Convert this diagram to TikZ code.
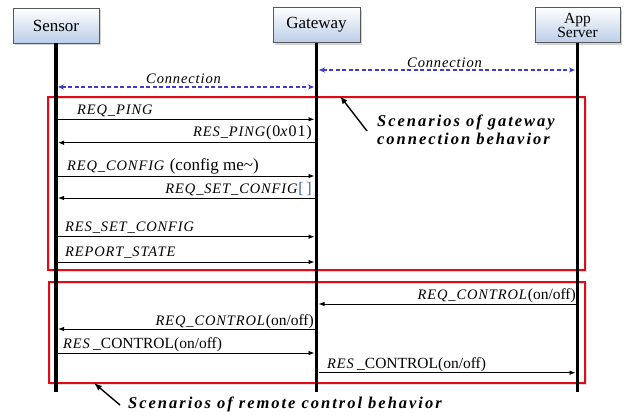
\documentclass[tikz,border=0pt]{standalone}
\usepackage{fontspec}
\setmainfont{Liberation Serif}
\newfontfamily\lblfont[LetterSpace=6]{Liberation Serif}
\newfontfamily\annfont[LetterSpace=12]{Liberation Serif}
\usetikzlibrary{arrows.meta,shadows}
\definecolor{boxblue}{RGB}{186,206,232}
\definecolor{connblue}{RGB}{60,60,205}
\definecolor{redbox}{RGB}{228,10,20}
\definecolor{brk}{RGB}{60,100,160}
\tikzset{
  actor/.style={draw=gray!70!black, line width=0.8pt, top color=white, bottom color=boxblue,
    minimum height=35pt, minimum width=86pt, inner sep=0pt, align=center,
    font=\fontsize{17}{15}\selectfont,
    drop shadow={shadow xshift=2pt, shadow yshift=-2pt, opacity=.35, fill=gray}},
  lifeline/.style={line width=3.5pt, black},
  msg/.style={line width=0.9pt, -{Latex[length=6pt,width=4.5pt]}},
  conn/.style={connblue, line width=1.2pt, dash pattern=on 4pt off 2.5pt, {Stealth[length=6pt,width=5pt]}-{Stealth[length=6pt,width=5pt]}},
  lbl/.style={inner sep=0pt, font=\lblfont\fontsize{14.5}{16}\selectfont},
  frame/.style={draw=redbox, line width=2pt},
  frameshadow/.style={draw=gray!25, line width=1.5pt},
  ann/.style={inner sep=0pt, font=\annfont\fontsize{16.5}{18}\selectfont\bfseries\itshape},
  pointer/.style={line width=1.4pt, -{Latex[length=8pt,width=6pt]}},
}
\newcommand\upr[1]{{\rmfamily\fontsize{15.5}{16}\selectfont #1}}
\begin{document}
\begin{tikzpicture}[x=1pt,y=-1pt]
\useasboundingbox (0,0) rectangle (628,418);
% red frames with soft shadow
\node[frameshadow, minimum width=537pt, minimum height=173pt, inner sep=0pt] (f1s) at (318,185) {};
\node[frameshadow, minimum width=536pt, minimum height=101pt, inner sep=0pt] (f2s) at (318.5,334) {};
\node[frame, minimum width=537pt, minimum height=173pt, inner sep=0pt] (f1) at (316.5,183.5) {};
\node[frame, minimum width=536pt, minimum height=101pt, inner sep=0pt] (f2) at (317,332.5) {};
% actors
\node[actor] (S) at (56,25.5) {Sensor};
\node[actor, minimum width=87pt] (G) at (316.5,25) {Gateway};
\node[actor, minimum width=85pt, font=\fontsize{15.5}{14}\selectfont] (A) at (577.5,25) {App\\Server};
% lifeline ends
\coordinate (Sb) at (56,392);
\coordinate (Gb) at (316.5,392);
\coordinate (Ab) at (577.5,392);
\draw[lifeline] (S.south) -- (Sb);
\draw[lifeline] (G.south) -- (Gb);
\draw[lifeline] (A.south) -- (Ab);
% connection arrows
\coordinate (c1s) at (58,87); \coordinate (c1g) at (314,87);
\coordinate (c2g) at (319,70); \coordinate (c2a) at (575,70);
\draw[conn] (c1s) -- (c1g);
\draw[conn] (c2g) -- (c2a);
\node[lbl, anchor=base] (lc1) at (184,83) {\textit{Connection}};
\node[lbl, anchor=base] (lc2) at (445,67) {\textit{Connection}};
% message endpoints
\coordinate (s1) at (58,119.3);  \coordinate (g1) at (314.5,119.3);
\coordinate (s2) at (58,142.7);  \coordinate (g2) at (314.5,142.7);
\coordinate (s3) at (58,176);    \coordinate (g3) at (314.5,176);
\coordinate (s4) at (58,198);    \coordinate (g4) at (314.5,198);
\coordinate (s5) at (58,236.7);  \coordinate (g5) at (314.5,236.7);
\coordinate (s6) at (58,262);    \coordinate (g6) at (314.5,262);
\coordinate (g7) at (318.5,304); \coordinate (a7) at (575.5,304);
\coordinate (s8) at (58,329);    \coordinate (g8) at (314.5,329);
\coordinate (s9) at (58,353);    \coordinate (g9) at (314.5,353);
\coordinate (g10) at (318.5,372.7); \coordinate (a10) at (575.5,372.7);
\draw[msg] (s1) -- (g1);
\draw[msg] (g2) -- (s2);
\draw[msg] (s3) -- (g3);
\draw[msg] (g4) -- (s4);
\draw[msg] (s5) -- (g5);
\draw[msg] (s6) -- (g6);
\draw[msg] (a7) -- (g7);
\draw[msg] (g8) -- (s8);
\draw[msg] (s9) -- (g9);
\draw[msg] (g10) -- (a10);
% message labels
\node[lbl, anchor=base west] (m1) at (77,114) {\textit{REQ\_PING}};
\node[lbl, anchor=base east] (m2) at (312,136.7) {\textit{RES\_PING}{\fontsize{16}{16}\selectfont(0\textit{x}01)}};
\node[lbl, anchor=base west] (m3) at (67,170.7) {\textit{REQ\_CONFIG} \upr{\fontsize{17}{16}\selectfont(config me\textasciitilde)}};
\node[lbl, anchor=base east] (m4) at (312,193.3) {\textit{REQ\_SET\_CONFIG}{\color{brk}\fontsize{16}{16}\selectfont[\,]}};
\node[lbl, anchor=base west] (m5) at (65,231.7) {\textit{RES\_SET\_CONFIG}};
\node[lbl, anchor=base west] (m6) at (65,256.7) {\textit{REPORT\_STATE}};
\node[lbl, anchor=base east] (m7) at (576,299) {\textit{REQ\_CONTROL}\upr{(on/off)}};
\node[lbl, anchor=base east] (m8) at (314,325) {\textit{REQ\_CONTROL}\upr{(on/off)}};
\node[lbl, anchor=base west] (m9) at (63,348.3) {\textit{RES}\,\upr{\_CONTROL(on/off)}};
\node[lbl, anchor=base west] (m10) at (327,368.3) {\textit{RES}\,\upr{\_CONTROL(on/off)}};
% annotations
\node[ann, anchor=base west] (n1) at (377,126.7) {Scenarios of gateway};
\node[ann, anchor=base west] (n2) at (377,144) {connection behavior};
\node[ann, anchor=base west] (n3) at (128,408) {Scenarios of remote control behavior};
\coordinate (p1) at (367,131); \coordinate (q1) at (340,96);
\coordinate (p2) at (120,405); \coordinate (q2) at (94,383);
\draw[pointer] (p1) -- (q1);
\draw[pointer] (p2) -- (q2);
\end{tikzpicture}
\end{document}
